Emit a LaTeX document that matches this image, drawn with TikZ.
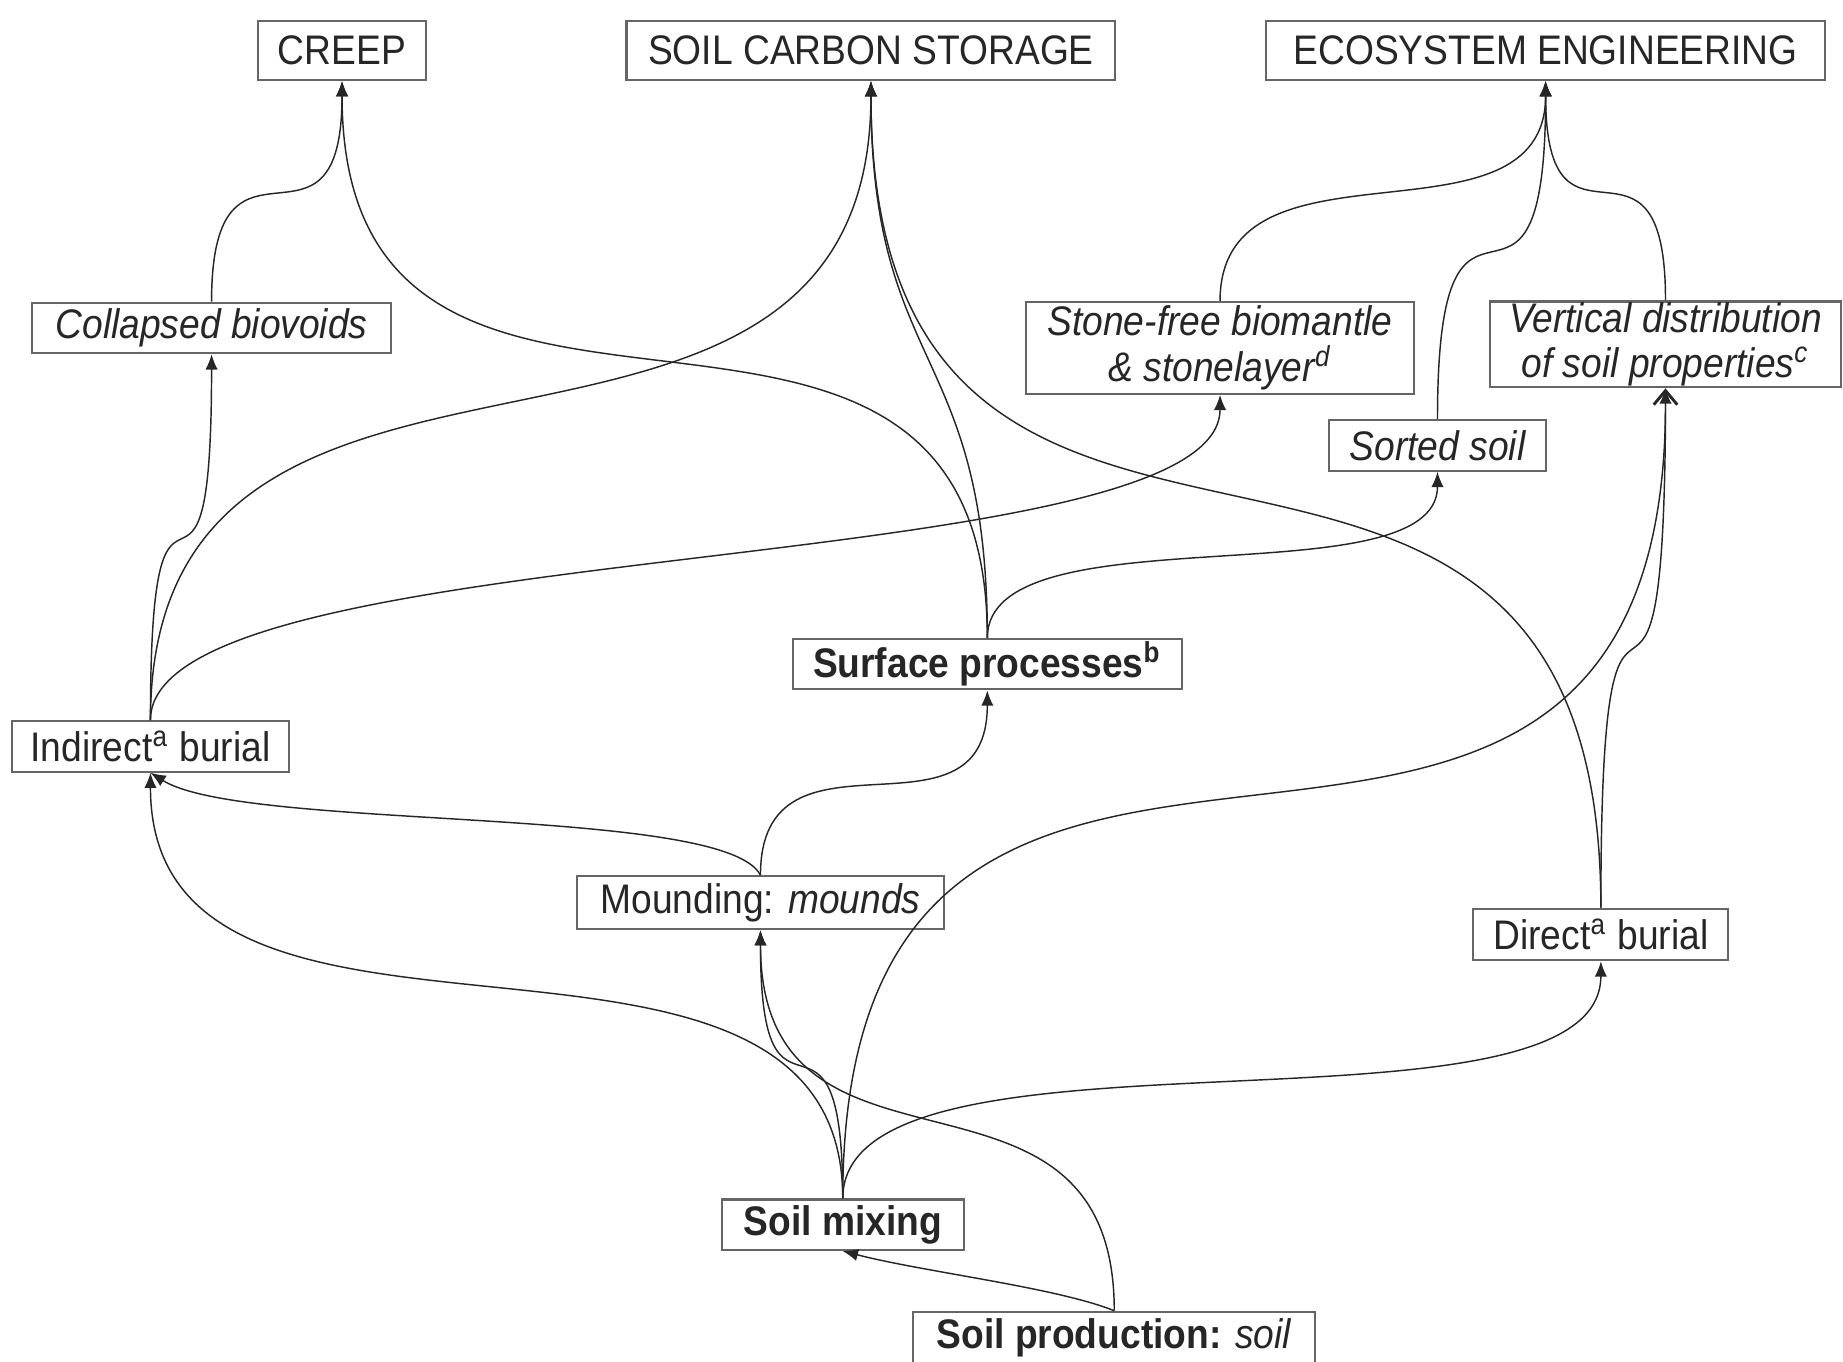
\documentclass[tikz,border=0pt]{standalone}
\usepackage{fontspec}
\setmainfont[FakeStretch=0.9]{Liberation Sans}
\usetikzlibrary{arrows.meta}

\begin{document}
\begin{tikzpicture}[x=0.1mm,y=-0.1mm,
  box/.style={draw=black!60, line width=0.5pt, inner sep=0pt, minimum height=4.3mm,
    text=black!85, font=\fontsize{10}{11}\selectfont},
  topbox/.style={box, minimum height=5mm},
  link/.style={draw=black!85, line width=0.35pt, -{Latex[length=1.3mm,width=1.05mm]}},
  barb/.style={draw=black!85, line width=0.35pt, -{Straight Barb[length=1.2mm,width=2mm,line width=0.7pt]}}]
\useasboundingbox (0,0) rectangle (1568,1158);

\node[topbox, minimum width=14.3mm] (creep) at (291,43) {CREEP};
\node[topbox, minimum width=41.6mm] (carbon) at (741,43) {SOIL CARBON STORAGE};
\node[topbox, minimum width=47.6mm] (eco) at (1315,43) {ECOSYSTEM ENGINEERING};
\node[box, minimum width=30.5mm] (voids) at (180,279) {\itshape Collapsed biovoids};
\node[box, minimum width=33mm, minimum height=7.8mm, align=center,
  font=\fontsize{10}{11}\selectfont\itshape] (stonefree) at (1038,296) {Stone-free biomantle\\\& stonelayer\textsuperscript{d}};
\node[box, minimum width=29.8mm, minimum height=7.3mm, align=center,
  font=\fontsize{10}{11}\selectfont\itshape] (vertical) at (1417,293) {Vertical distribution\\of soil properties\textsuperscript{c}};
\node[box, minimum width=18.4mm] (sorted) at (1223,379) {\itshape Sorted soil};
\node[box, minimum width=33.1mm] (surface) at (840,565) {\bfseries Surface processes\textsuperscript{b}};
\node[box, minimum width=23.5mm] (indirect) at (128,635) {Indirect\textsuperscript{a} burial};
\node[box, minimum width=31.2mm, minimum height=4.5mm] (mounding) at (647,768) {Mounding: \textit{mounds}};
\node[box, minimum width=21.7mm, minimum height=4.4mm] (direct) at (1362,795) {Direct\textsuperscript{a} burial};
\node[box, minimum width=20.6mm] (mixing) at (717,1042) {\bfseries Soil mixing};
\node[box, minimum width=34.2mm, minimum height=4.4mm] (production) at (948,1138) {\textbf{Soil production:} \textit{soil}};

\draw[link] (voids.north) .. controls +(0,-170) and +(0,170) .. (creep.south);
\draw[link] (surface.north) .. controls +(0,-400) and +(0,400) .. (creep.south);
\draw[link] (indirect.north) .. controls +(0,-410) and +(0,410) .. (carbon.south);
\draw[link] (surface.north) .. controls +(0,-250) and +(0,250) .. (carbon.south);
\draw[link] (direct.north) .. controls +(0,-560) and +(0,560) .. (carbon.south);
\draw[link] (stonefree.north) .. controls +(0,-150) and +(0,150) .. (eco.south);
\draw[link] (sorted.north) .. controls +(0,-260) and +(0,260) .. (eco.south);
\draw[link] (vertical.north) .. controls +(0,-170) and +(0,170) .. (eco.south);
\draw[link] (indirect.north) .. controls +(0,-280) and +(0,280) .. (voids.south);
\draw[link] (indirect.north) .. controls +(0,-160) and +(0,160) .. (stonefree.south);
\draw[link] (surface.north) .. controls +(0,-110) and +(0,110) .. (sorted.south);
\draw[link] (mixing.north) .. controls +(0,-600) and +(0,600) .. (vertical.south);
\draw[barb] (direct.north) .. controls +(0,-400) and +(0,400) .. (vertical.south);
\draw[link] (mounding.north) .. controls +(0,-140) and +(0,140) .. (surface.south);
\draw[link] (mounding.north) .. controls +(-30,-60) and +(80,50) .. (indirect.south);
\draw[link] (mixing.north) .. controls +(0,-295) and +(0,295) .. (indirect.south);
\draw[link] (mixing.north) .. controls +(0,-200) and +(0,200) .. (mounding.south);
\draw[link] (production.north) .. controls +(0,-240) and +(0,240) .. (mounding.south);
\draw[link] (mixing.north) .. controls +(0,-165) and +(0,165) .. (direct.south);
\draw[link] (production.north) .. controls +(-50,-20) and +(70,18) .. (mixing.south);
\end{tikzpicture}
\end{document}
